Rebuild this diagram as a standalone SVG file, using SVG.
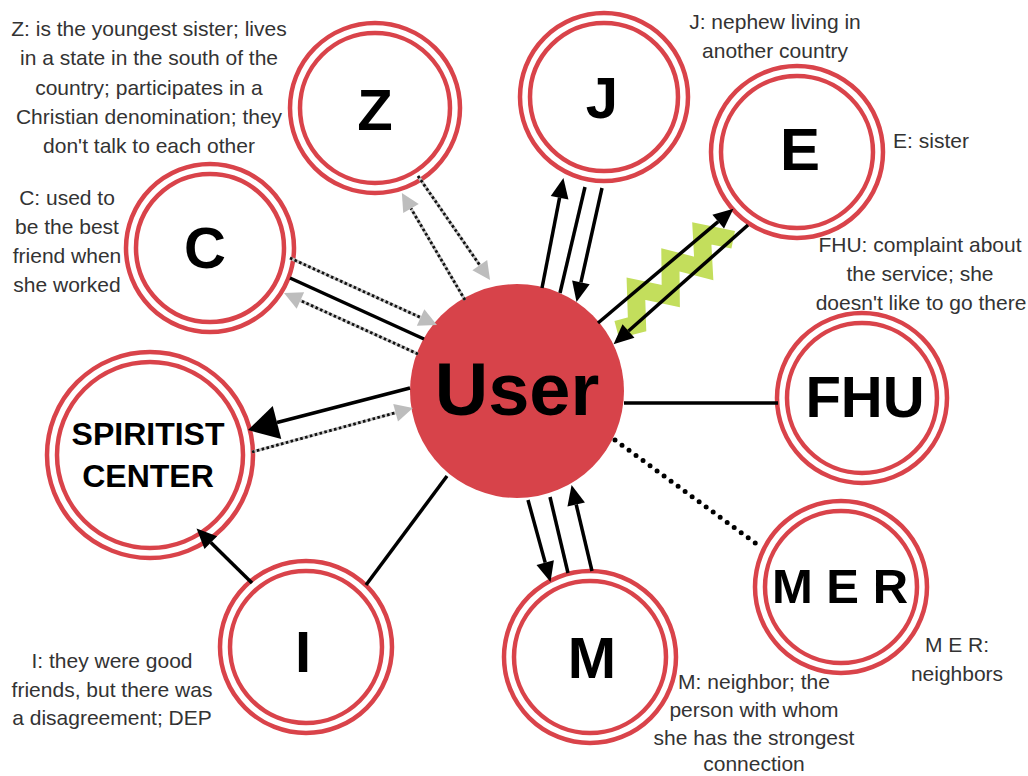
<svg xmlns="http://www.w3.org/2000/svg" width="1028" height="776" viewBox="0 0 1028 776">
  <style>
    .ring { fill: none; stroke: #d9434a; stroke-width: 4.5; }
    .disc { fill: #ffffff; }
    .letter { font-family: "Liberation Sans", Arial, sans-serif; font-weight: bold; fill: #000; text-anchor: middle; }
    .note { font-family: "Liberation Sans", Arial, sans-serif; font-size: 21px; fill: #333; text-anchor: middle; }
    .solid { fill: none; stroke: #000; stroke-width: 3.5; }
    .grayline { fill: none; stroke: #c4c4c4; stroke-width: 3.2; }
    .dots { fill: none; stroke: #111; stroke-width: 2.8; stroke-dasharray: 2.6 2.4; }
    .rounddots { fill: none; stroke: #000; stroke-width: 5; stroke-linecap: round; stroke-dasharray: 0 8.7; }
  </style>
  <defs>
    <marker id="arrowBlack" markerUnits="userSpaceOnUse" markerWidth="20" markerHeight="18" viewBox="0 0 20 18" refX="0" refY="9" orient="auto" overflow="visible">
      <path d="M0,0 L20,9 L0,18 z" fill="#000"/>
    </marker>
    <marker id="arrowBig" markerUnits="userSpaceOnUse" markerWidth="30" markerHeight="34" viewBox="0 0 30 34" refX="0" refY="17" orient="auto" overflow="visible">
      <path d="M0,0 L30,17 L0,34 z" fill="#000"/>
    </marker>
    <marker id="arrowGray" markerUnits="userSpaceOnUse" markerWidth="18" markerHeight="18" viewBox="0 0 18 18" refX="0" refY="9" orient="auto" overflow="visible">
      <path d="M0,0 L18,9 L0,18 z" fill="#bdbdbd"/>
    </marker>
  </defs>

  <rect width="1028" height="776" fill="#ffffff"/>

  <!-- text notes -->
  <g id="notes">
    <text class="note" x="149" y="36">Z: is the youngest sister; lives</text>
    <text class="note" x="149" y="65">in a state in the south of the</text>
    <text class="note" x="149" y="95">country; participates in a</text>
    <text class="note" x="149" y="124">Christian denomination; they</text>
    <text class="note" x="149" y="153">don't talk to each other</text>

    <text class="note" x="67" y="205">C: used to</text>
    <text class="note" x="67" y="234">be the best</text>
    <text class="note" x="67" y="263">friend when</text>
    <text class="note" x="67" y="292">she worked</text>

    <text class="note" x="775" y="29">J: nephew living in</text>
    <text class="note" x="775" y="58">another country</text>

    <text class="note" x="931" y="148">E: sister</text>

    <text class="note" x="920" y="252">FHU: complaint about</text>
    <text class="note" x="920" y="281">the service; she</text>
    <text class="note" x="921" y="310">doesn't like to go there</text>

    <text class="note" x="957" y="652">M E R:</text>
    <text class="note" x="957" y="681">neighbors</text>

    <text class="note" x="754" y="689">M: neighbor; the</text>
    <text class="note" x="754" y="717">person with whom</text>
    <text class="note" x="754" y="745">she has the strongest</text>
    <text class="note" x="754" y="771">connection</text>

    <text class="note" x="112" y="668">I: they were good</text>
    <text class="note" x="112" y="697">friends, but there was</text>
    <text class="note" x="112" y="725">a disagreement; DEP</text>
  </g>

  <!-- nodes -->
  <g id="node-user">
    <circle cx="517" cy="391" r="107" fill="#d7434a"/>
    <text class="letter" x="517" y="415" font-size="74">User</text>
  </g>
  <g id="node-z">
    <circle class="disc" cx="375" cy="108" r="85"/>
    <circle class="ring" cx="375" cy="108" r="85"/>
    <circle class="ring" cx="375" cy="108" r="75"/>
    <text class="letter" x="375" y="130" font-size="58">Z</text>
  </g>
  <g id="node-j">
    <circle class="disc" cx="604" cy="97" r="84"/>
    <circle class="ring" cx="604" cy="97" r="84"/>
    <circle class="ring" cx="604" cy="97" r="74"/>
    <text class="letter" x="602" y="118" font-size="58">J</text>
  </g>
  <g id="node-e">
    <circle class="disc" cx="797" cy="152" r="86"/>
    <circle class="ring" cx="797" cy="152" r="86"/>
    <circle class="ring" cx="797" cy="152" r="76"/>
    <text class="letter" x="800" y="170" font-size="60">E</text>
  </g>
  <g id="node-c">
    <circle class="disc" cx="210" cy="248" r="84"/>
    <circle class="ring" cx="210" cy="248" r="84"/>
    <circle class="ring" cx="210" cy="248" r="74"/>
    <text class="letter" x="205" y="268" font-size="58">C</text>
  </g>
  <g id="node-spiritist">
    <circle class="disc" cx="150" cy="455" r="103"/>
    <circle class="ring" cx="150" cy="455" r="103"/>
    <circle class="ring" cx="150" cy="455" r="93"/>
    <text class="letter" x="148" y="445" font-size="32">SPIRITIST</text>
    <text class="letter" x="148" y="487" font-size="32">CENTER</text>
  </g>
  <g id="node-fhu">
    <circle class="disc" cx="862" cy="398" r="85"/>
    <circle class="ring" cx="862" cy="398" r="85"/>
    <circle class="ring" cx="862" cy="398" r="75"/>
    <text class="letter" x="865" y="417" font-size="58">FHU</text>
  </g>
  <g id="node-mer">
    <circle class="disc" cx="841" cy="587" r="86"/>
    <circle class="ring" cx="841" cy="587" r="86"/>
    <circle class="ring" cx="841" cy="587" r="76"/>
    <text class="letter" x="840" y="603" font-size="49">M E R</text>
  </g>
  <g id="node-m">
    <circle class="disc" cx="590" cy="657" r="86"/>
    <circle class="ring" cx="590" cy="657" r="86"/>
    <circle class="ring" cx="590" cy="657" r="76"/>
    <text class="letter" x="592" y="678" font-size="58">M</text>
  </g>
  <g id="node-i">
    <circle class="disc" cx="306" cy="647" r="86"/>
    <circle class="ring" cx="306" cy="647" r="86"/>
    <circle class="ring" cx="306" cy="647" r="76"/>
    <text class="letter" x="303" y="672" font-size="58">I</text>
  </g>

  <!-- connectors -->
  <g id="connectors">
    <!-- C and User -->
    <path class="grayline" d="M290,258 L420.6,317.5" marker-end="url(#arrowGray)"/>
    <path class="dots" d="M290,258 L420.6,317.5"/>
    <path class="solid" d="M290,278 L424,339"/>
    <path class="grayline" d="M418,354 L300.4,300.5" marker-end="url(#arrowGray)"/>
    <path class="dots" d="M418,354 L300.4,300.5"/>

    <!-- Z and User -->
    <path class="grayline" d="M465,300 L411,208.5" marker-end="url(#arrowGray)"/>
    <path class="dots" d="M465,300 L411,208.5"/>
    <path class="grayline" d="M418,176 L479.8,265.2" marker-end="url(#arrowGray)"/>
    <path class="dots" d="M418,176 L479.8,265.2"/>

    <!-- J and User -->
    <path class="solid" d="M542,288 L559.6,197.7" marker-end="url(#arrowBlack)"/>
    <path class="solid" stroke-width="5" d="M585,187 L560,293"/>
    <path class="solid" d="M602,188 L580.9,282.4" marker-end="url(#arrowBlack)"/>

    <!-- E and User: conflict zigzag behind the two arrows -->
    <polyline transform="translate(606.5,333) rotate(-40)" points="10,4 29,13 51,-15 73,13 96,-15 116,13 137,-15 157,10" fill="none" stroke="#c3de5c" stroke-width="18" stroke-linejoin="miter" stroke-miterlimit="10"/>
    <path class="solid" stroke-width="4" d="M598,323 L718.2,221.6" marker-end="url(#arrowBlack)"/>
    <path class="solid" stroke-width="4" d="M748,225 L628.5,331" marker-end="url(#arrowBlack)"/>

    <!-- Spiritist center and User -->
    <path class="solid" stroke-width="5.5" d="M410,388 L277,422.5" marker-end="url(#arrowBig)"/>
    <path class="grayline" d="M252,452 L395.6,412.7" marker-end="url(#arrowGray)"/>
    <path class="dots" d="M252,452 L395.6,412.7"/>

    <!-- I -->
    <path class="solid" d="M252,583 L210.8,542.6" marker-end="url(#arrowBlack)"/>
    <path class="solid" d="M366,585 L447,476"/>

    <!-- M and User -->
    <path class="solid" d="M528,500 L545.2,562.6" marker-end="url(#arrowBlack)"/>
    <path class="solid" d="M550,497 L568,573"/>
    <path class="solid" d="M592,571 L576.2,504.5" marker-end="url(#arrowBlack)"/>

    <!-- FHU and User -->
    <path class="solid" d="M624,403 L778,403"/>

    <!-- M E R and User -->
    <path class="rounddots" d="M615,440 L762,548"/>
  </g>
</svg>
